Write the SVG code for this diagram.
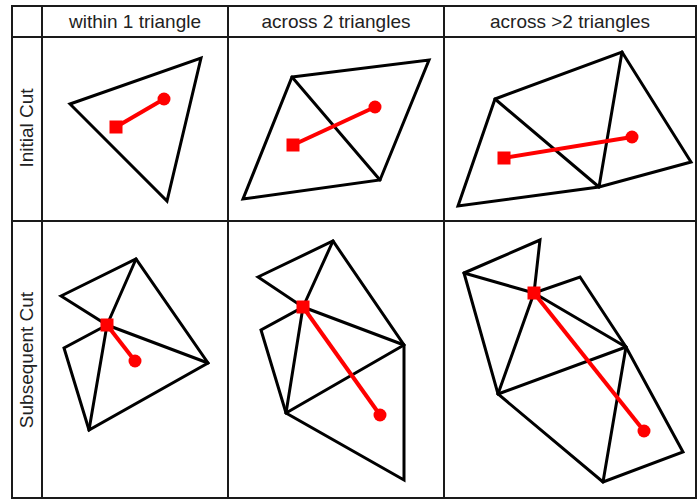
<svg xmlns="http://www.w3.org/2000/svg" width="697" height="500" viewBox="0 0 697 500">
<style>
.grid{stroke:#1a1a1a;stroke-width:2;fill:none}
.mesh{stroke:#000;stroke-width:3;fill:none;stroke-linejoin:miter;stroke-linecap:round}
.cut{stroke:#ff0000;stroke-width:4;fill:none}
.end{fill:#ff0000}
.lbl{font-family:"Liberation Sans",Arial,sans-serif;font-size:19px;fill:#222;text-anchor:middle}
</style>
<rect width="697" height="500" fill="#fff"/>
<g id="grid">
<rect class="grid" x="12" y="6" width="684" height="492"/>
<line class="grid" x1="42" y1="6" x2="42" y2="498"/>
<line class="grid" x1="228" y1="6" x2="228" y2="498"/>
<line class="grid" x1="444" y1="6" x2="444" y2="498"/>
<line class="grid" x1="12" y1="37" x2="696" y2="37"/>
<line class="grid" x1="12" y1="221" x2="696" y2="221"/>
</g>
<g id="labels">
<text class="lbl" x="135" y="28">within 1 triangle</text>
<text class="lbl" x="336" y="28">across 2 triangles</text>
<text class="lbl" x="570" y="28">across &gt;2 triangles</text>
<text class="lbl" transform="translate(33,128) rotate(-90)">Initial Cut</text>
<text class="lbl" transform="translate(33,360) rotate(-90)">Subsequent Cut</text>
</g>
<g id="cell-r1c1">
<polygon class="mesh" points="70,104 201,58 167,201"/>
<line class="cut" x1="116" y1="127" x2="164" y2="99"/>
<rect class="end" x="109.5" y="120.5" width="13" height="13"/>
<circle class="end" cx="164" cy="99" r="6.5"/>
</g>
<g id="cell-r1c2">
<polygon class="mesh" points="292,77 429,60 380,180 243,199"/>
<line class="mesh" x1="292" y1="77" x2="380" y2="180"/>
<line class="cut" x1="293" y1="145" x2="375" y2="107"/>
<rect class="end" x="286.5" y="138.5" width="13" height="13"/>
<circle class="end" cx="375" cy="107" r="6.5"/>
</g>
<g id="cell-r1c3">
<polygon class="mesh" points="495,99 622,52 691,162 599,187 458,206"/>
<line class="mesh" x1="495" y1="99" x2="599" y2="187"/>
<line class="mesh" x1="622" y1="52" x2="599" y2="187"/>
<line class="cut" x1="504" y1="158" x2="632" y2="137"/>
<rect class="end" x="497.5" y="151.5" width="13" height="13"/>
<circle class="end" cx="632" cy="137" r="6.5"/>
</g>
<g id="cell-r2c1">
<polygon class="mesh" points="61,296 136,259 208,363 89,430 64,348 107,325"/>
<line class="mesh" x1="107" y1="325" x2="136" y2="259"/>
<line class="mesh" x1="107" y1="325" x2="208" y2="363"/>
<line class="mesh" x1="107" y1="325" x2="89" y2="430"/>
<line class="cut" x1="107" y1="325" x2="135" y2="361"/>
<rect class="end" x="100.5" y="318.5" width="13" height="13"/>
<circle class="end" cx="135" cy="361" r="6.5"/>
</g>
<g id="cell-r2c2">
<polygon class="mesh" points="258,277 333,241 404,345 404,480 286,413 261,330 303,307"/>
<line class="mesh" x1="303" y1="307" x2="333" y2="241"/>
<line class="mesh" x1="303" y1="307" x2="404" y2="345"/>
<line class="mesh" x1="303" y1="307" x2="286" y2="413"/>
<line class="mesh" x1="286" y1="413" x2="404" y2="345"/>
<line class="cut" x1="303" y1="307" x2="380" y2="415"/>
<rect class="end" x="296.5" y="300.5" width="13" height="13"/>
<circle class="end" cx="380" cy="415" r="6.5"/>
</g>
<g id="cell-r2c3">
<polygon class="mesh" points="464,273 540,240 534,293 580,277 626,347 683,452 603,482 498,394"/>
<line class="mesh" x1="464" y1="273" x2="534" y2="293"/>
<line class="mesh" x1="534" y1="293" x2="626" y2="347"/>
<line class="mesh" x1="534" y1="293" x2="498" y2="394"/>
<line class="mesh" x1="498" y1="394" x2="626" y2="347"/>
<line class="mesh" x1="626" y1="347" x2="603" y2="482"/>
<line class="cut" x1="534" y1="293" x2="644" y2="431"/>
<rect class="end" x="527.5" y="286.5" width="13" height="13"/>
<circle class="end" cx="644" cy="431" r="6.5"/>
</g>
</svg>
